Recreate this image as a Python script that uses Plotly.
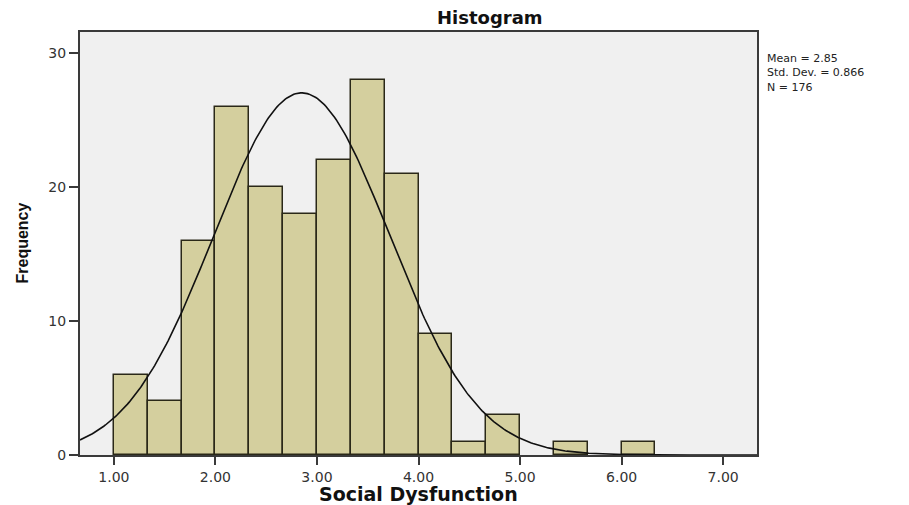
import numpy as np
import plotly.graph_objects as go

# Histogram of Social Dysfunction scores (bin width 1/3)
bin_starts = [1.0, 4/3, 5/3, 2.0, 7/3, 8/3, 3.0, 10/3, 11/3, 4.0, 13/3, 14/3, 5.0, 16/3, 17/3, 6.0]
counts = [6, 4, 16, 26, 20, 18, 22, 28, 21, 9, 1, 3, 0, 1, 0, 1]
bin_width = 1/3

# Summary statistics shown beside the chart
mean_val = 2.85
std_val = 0.866
n_val = 176

x_ticks = [1, 2, 3, 4, 5, 6, 7]
y_ticks = [0, 10, 20, 30]

x_range = [2/3, 22/3]
y_range = [0, 31.57]

# keep only non-empty bins as bars
bar_x = [s + bin_width / 2 for s, c in zip(bin_starts, counts) if c > 0]
bar_y = [c for c in counts if c > 0]

# fitted normal curve scaled to the histogram counts
cx = np.linspace(x_range[0], x_range[1], 400)
cy = n_val * bin_width * np.exp(-0.5 * ((cx - mean_val) / std_val) ** 2) / (std_val * np.sqrt(2 * np.pi))

fig = go.Figure()
fig.add_trace(go.Bar(
    x=bar_x, y=bar_y, width=bin_width,
    marker=dict(color="#D4CF9E", line=dict(color="#2A2818", width=1.5)),
    hoverinfo="x+y", showlegend=False,
))
fig.add_trace(go.Scatter(
    x=cx, y=cy, mode="lines",
    line=dict(color="#111111", width=1.6),
    hoverinfo="skip", showlegend=False,
))

tick_font = dict(family="DejaVu Sans", size=14, color="#333333")
axis_line = "#3A3A3A"
stats_text = "<br>".join([
    f"Mean = {mean_val:.2f}",
    f"Std. Dev. = {std_val:.3f}",
    f"N = {n_val}",
])

fig.update_layout(
    width=909, height=505,
    margin=dict(l=80, r=152, t=32, b=50),
    paper_bgcolor="white",
    plot_bgcolor="#F0F0F0",
    bargap=0,
    xaxis=dict(
        range=x_range, tickvals=x_ticks, tickformat=".2f",
        showgrid=False, zeroline=False,
        showline=True, linecolor=axis_line, linewidth=2, mirror=True,
        ticks="outside", ticklen=8, tickwidth=1.5, tickcolor=axis_line,
        tickfont=tick_font,
    ),
    yaxis=dict(
        range=y_range, tickvals=y_ticks,
        showgrid=False, zeroline=False,
        showline=True, linecolor=axis_line, linewidth=2, mirror=True,
        ticks="outside", ticklen=9, tickwidth=1.5, tickcolor=axis_line,
        tickfont=tick_font,
    ),
    annotations=[
        dict(text="<b>Histogram</b>", xref="paper", yref="paper",
             x=(490 - 80) / 677, y=1 + (32 - 17) / 423,
             xanchor="center", yanchor="middle", showarrow=False,
             font=dict(family="DejaVu Sans", size=18, color="#111111")),
        dict(text="<b>Social Dysfunction</b>", xref="paper", yref="paper",
             x=(418 - 80) / 677, y=-(494 - 455) / 423,
             xanchor="center", yanchor="middle", showarrow=False,
             font=dict(family="DejaVu Sans", size=19, color="#111111")),
        dict(text="<b>Frequency</b>", xref="paper", yref="paper",
             x=(22 - 80) / 677, y=0.5, textangle=-90,
             xanchor="center", yanchor="middle", showarrow=False,
             font=dict(family="Liberation Sans", size=16, color="#111111")),
        dict(text=stats_text, xref="paper", yref="paper",
             x=(766 - 80) / 677, y=1 - (51 - 32) / 423,
             xanchor="left", yanchor="top", align="left", showarrow=False,
             borderpad=0,
             font=dict(family="DejaVu Sans", size=11, color="#222222")),
    ],
)

fig.write_html("out.html")
